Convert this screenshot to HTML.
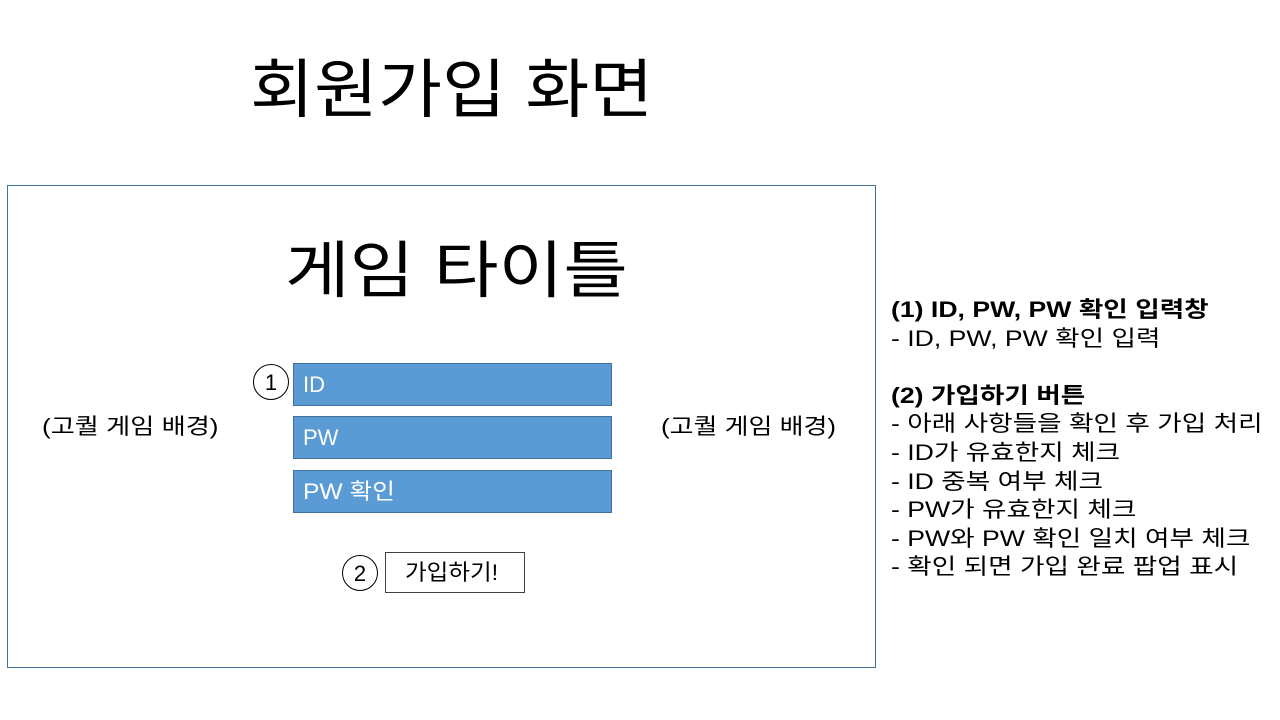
<!DOCTYPE html>
<html><head><meta charset="utf-8"><style>
body{margin:0;width:1280px;height:720px;background:#fff;position:relative;overflow:hidden;font-family:"Liberation Sans","Noto Sans CJK KR","NanumGothic",sans-serif;color:#000}
.a{position:absolute;white-space:nowrap;transform-origin:0 0}
.box{position:absolute;left:293px;background:#5b9bd5;border:1px solid #41719c;color:#fff;font-size:22px;line-height:41px;padding-left:9px;box-sizing:border-box;width:319px;height:43px}
.circ{position:absolute;width:36px;height:36px;border:1px solid #000;border-radius:50%;text-align:center;line-height:36px;font-size:22px;box-sizing:border-box}
</style></head><body>
<div class="a" style="left:250px;top:50px;font-size:64px;line-height:80px;transform:scaleX(1.087)">회원가입 화면</div>
<div class="a" style="left:7px;top:185px;width:867px;height:481px;border:1px solid #41719c"></div>
<div class="a" style="left:285px;top:233px;font-size:62px;line-height:78px;transform:scaleX(1.134)">게임 타이틀</div>
<div class="circ" style="left:253px;top:364px">1</div>
<div class="box" style="top:363px">ID</div>
<div class="box" style="top:416px">PW</div>
<div class="box" style="top:470px"><span style="display:inline-block;transform:scaleX(1.12);transform-origin:0 0">PW 확인</span></div>
<div class="circ" style="left:342px;top:555px">2</div>
<div class="a" style="left:385px;top:552px;width:140px;height:41px;border:1px solid #404040;box-sizing:border-box;line-height:40px;font-size:22px"><span style="position:absolute;left:19px;display:inline-block;transform:scaleX(1.07);transform-origin:0 0">가입하기!</span></div>
<div class="a" style="left:42px;top:412px;font-size:22px;line-height:30px;transform:scaleX(1.19)">(고퀄 게임 배경)</div>
<div class="a" style="left:661px;top:412px;font-size:22px;line-height:30px;transform:scaleX(1.18)">(고퀄 게임 배경)</div>
<div class="a" style="left:891px;top:296px;font-size:22px;line-height:28.6px;transform:scaleX(1.21)">
<b>(1) ID, PW, PW 확인 입력창</b><br>- ID, PW, PW 확인 입력<br><br><b>(2) 가입하기 버튼</b><br>- 아래 사항들을 확인 후 가입 처리<br>- ID가 유효한지 체크<br>- ID 중복 여부 체크<br>- PW가 유효한지 체크<br>- PW와 PW 확인 일치 여부 체크<br>- 확인 되면 가입 완료 팝업 표시</div>
</body></html>
